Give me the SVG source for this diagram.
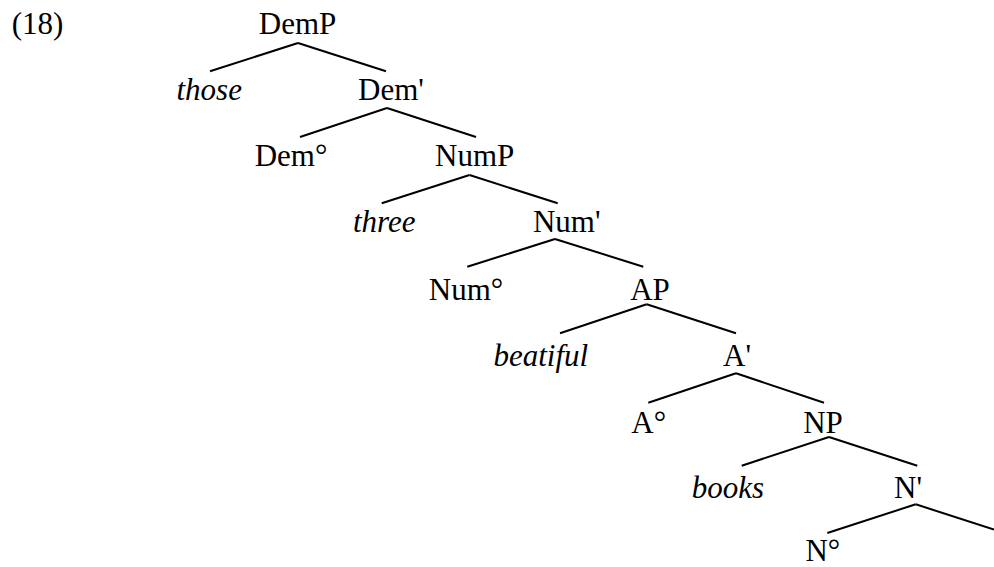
<svg xmlns="http://www.w3.org/2000/svg" width="994" height="567" viewBox="0 0 994 567">
<style>
.t { font-family: 'Liberation Serif', 'Times New Roman', Times, serif; font-size: 31px; fill: #000; text-anchor: middle; }
.it { font-style: italic; }
#connectors line { stroke: #000; stroke-width: 2; stroke-linecap: butt; }
</style>
<rect width="994" height="567" fill="#fff"/>
<g font-family="Liberation Serif, Times New Roman, serif" font-size="31">
<text class="t" x="11.7" y="33.5" text-anchor="start" style="text-anchor:start">(18)</text>
<g id="connectors">
  <line x1="298" y1="43" x2="210" y2="71.3"/>
  <line x1="298" y1="43" x2="386" y2="71.3"/>
  <line x1="387" y1="108" x2="300" y2="137"/>
  <line x1="387" y1="108" x2="476" y2="137"/>
  <line x1="469.5" y1="175" x2="381.7" y2="203.3"/>
  <line x1="469.5" y1="175" x2="557.7" y2="203.3"/>
  <line x1="555" y1="239" x2="467.3" y2="266.7"/>
  <line x1="555" y1="239" x2="643.3" y2="266.7"/>
  <line x1="646.7" y1="304.3" x2="560" y2="333.3"/>
  <line x1="646.7" y1="304.3" x2="736" y2="333.3"/>
  <line x1="736" y1="373.3" x2="648.3" y2="402.7"/>
  <line x1="736" y1="373.3" x2="824" y2="402.7"/>
  <line x1="829" y1="437" x2="741.7" y2="465.7"/>
  <line x1="829" y1="437" x2="917.3" y2="465.7"/>
  <line x1="915.7" y1="504.3" x2="827.3" y2="533"/>
  <line x1="915.7" y1="504.3" x2="994" y2="529.5"/>
</g>
<g id="DemP"><text class="t" x="297.5" y="34">DemP</text></g>
<g id="those"><text class="t it" x="209.2" y="100">those</text></g>
<g id="DemBar"><text class="t" x="391" y="100">Dem'</text></g>
<g id="DemHead"><text class="t" x="291" y="165.7">Dem°</text></g>
<g id="NumP"><text class="t" x="474.7" y="165.7">NumP</text></g>
<g id="three"><text class="t it" x="384.2" y="232">three</text></g>
<g id="NumBar"><text class="t" x="566.7" y="231.7">Num'</text></g>
<g id="NumHead"><text class="t" x="466" y="300">Num°</text></g>
<g id="AP"><text class="t" x="650" y="300">AP</text></g>
<g id="beatiful"><text class="t it" x="540.8" y="366">beatiful</text></g>
<g id="ABar"><text class="t" x="737" y="366">A'</text></g>
<g id="AHead"><text class="t" x="648.7" y="432.7">A°</text></g>
<g id="NP"><text class="t" x="823" y="432.7">NP</text></g>
<g id="books"><text class="t it" x="727.8" y="498.3">books</text></g>
<g id="NBar"><text class="t" x="908" y="498.2">N'</text></g>
<g id="NHead"><text class="t" x="822.8" y="560.5">N°</text></g>
</g>
</svg>
